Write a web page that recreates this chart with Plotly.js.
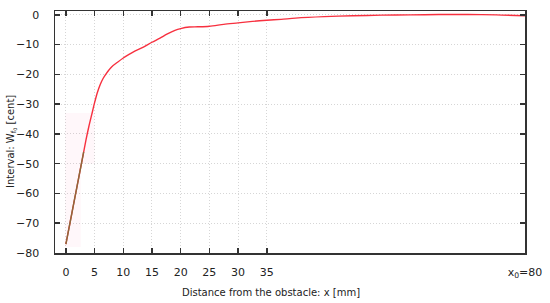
<!DOCTYPE html>
<html>
<head>
<meta charset="utf-8">
<script src="https://cdn.plot.ly/plotly-3.0.1.min.js"></script>
<style>
  body { margin: 0; background: #fff; }
  #plot { width: 550px; height: 303px; }
</style>
</head>
<body>
<div id="plot"></div>
<script>
// curve
var dist_x = [0, 1, 2, 3, 3.5, 4, 4.5, 5, 5.5, 6, 6.5, 7, 7.5, 8, 9, 10, 11, 12, 13.5, 15, 16.4, 17.6, 19, 20, 21.5, 23, 25, 27.5, 30, 32.5, 35, 37.5, 40, 45, 50, 55, 60, 65, 70, 75, 80];
var interval_y = [-77, -67, -57, -47, -42, -37.5, -33.5, -29.5, -26, -23.3, -21.3, -19.8, -18.5, -17.4, -15.9, -14.5, -13.3, -12.2, -10.8, -9.2, -7.8, -6.5, -5.2, -4.6, -4.1, -4.0, -3.8, -3.2, -2.7, -2.2, -1.8, -1.5, -1.1, -0.6, -0.3, -0.1, 0, 0.1, 0.1, 0, -0.3];

// brown start segment
var start_x = [0, 1, 2, 3.1];
var start_y = [-77, -67, -57, -46];

// faint pink band
var band_x = [-0.1, 2.6, 2.6, 5, 5, -0.1, -0.1];
var band_y = [-78, -78, -50, -50, -33, -33, -78];

var x_ticks = [0, 5, 10, 15, 20, 25, 30, 35, 80];
var x_labels = ['0', '5', '10', '15', '20', '25', '30', '35', 'x<sub>0</sub>=80'];
var y_ticks = [-80, -70, -60, -50, -40, -30, -20, -10, 0];

var band = {
    x: band_x,
    y: band_y,
    type: 'scatter',
    mode: 'lines',
    fill: 'toself',
    fillcolor: 'rgba(255,0,90,0.03)',
    line: {width: 0},
    hoverinfo: 'skip'
};

var trace1 = {
    x: dist_x,
    y: interval_y,
    type: 'scatter',
    mode: 'lines',
    line: {color: '#f7303f', width: 1.4, shape: 'spline', smoothing: 0.8}
};

var trace2 = {
    x: start_x,
    y: start_y,
    type: 'scatter',
    mode: 'lines',
    line: {color: '#8a6a3a', width: 1.4}
};

var axis_font = {family: 'DejaVu Sans, sans-serif', size: 11, color: '#222'};

var layout = {
    width: 550,
    height: 303,
    showlegend: false,
    margin: {l: 55, r: 25, t: 11, b: 50},
    paper_bgcolor: '#ffffff',
    plot_bgcolor: '#ffffff',
    xaxis: {
        range: [-1.9, 80],
        tickvals: x_ticks,
        ticktext: x_labels,
        ticks: 'inside',
        ticklen: 5,
        tickwidth: 1.5,
        tickcolor: '#333',
        ticklabelstandoff: 8,
        showline: true,
        linecolor: '#333',
        linewidth: 1.5,
        mirror: 'ticks',
        showgrid: true,
        gridcolor: '#d6d6d6',
        griddash: '1px,2px',
        gridwidth: 1,
        zeroline: false,
        tickfont: axis_font
    },
    yaxis: {
        range: [-80, 1.3],
        tickvals: y_ticks,
        ticks: 'inside',
        ticklen: 5,
        tickwidth: 1.5,
        tickcolor: '#333',
        ticklabelstandoff: 12,
        showline: true,
        linecolor: '#333',
        linewidth: 1.5,
        mirror: 'ticks',
        showgrid: true,
        gridcolor: '#d6d6d6',
        griddash: '1px,2px',
        gridwidth: 1,
        zeroline: false,
        tickfont: axis_font
    },
    annotations: [
        {
            text: 'Distance from the obstacle: x [mm]',
            xref: 'paper', yref: 'paper',
            x: 0.46, y: -0.165,
            xanchor: 'center', yanchor: 'middle',
            showarrow: false,
            font: {family: 'DejaVu Sans, sans-serif', size: 10, color: '#222'}
        },
        {
            text: 'Interval: W<sub>f<sub>0</sub></sub> [cent]',
            xref: 'paper', yref: 'paper',
            x: -0.093, y: 0.46,
            xanchor: 'center', yanchor: 'middle',
            textangle: -90,
            showarrow: false,
            font: {family: 'DejaVu Sans, sans-serif', size: 10, color: '#222'}
        }
    ]
};

Plotly.newPlot('plot', [band, trace1, trace2], layout, {staticPlot: true});
</script>
</body>
</html>
